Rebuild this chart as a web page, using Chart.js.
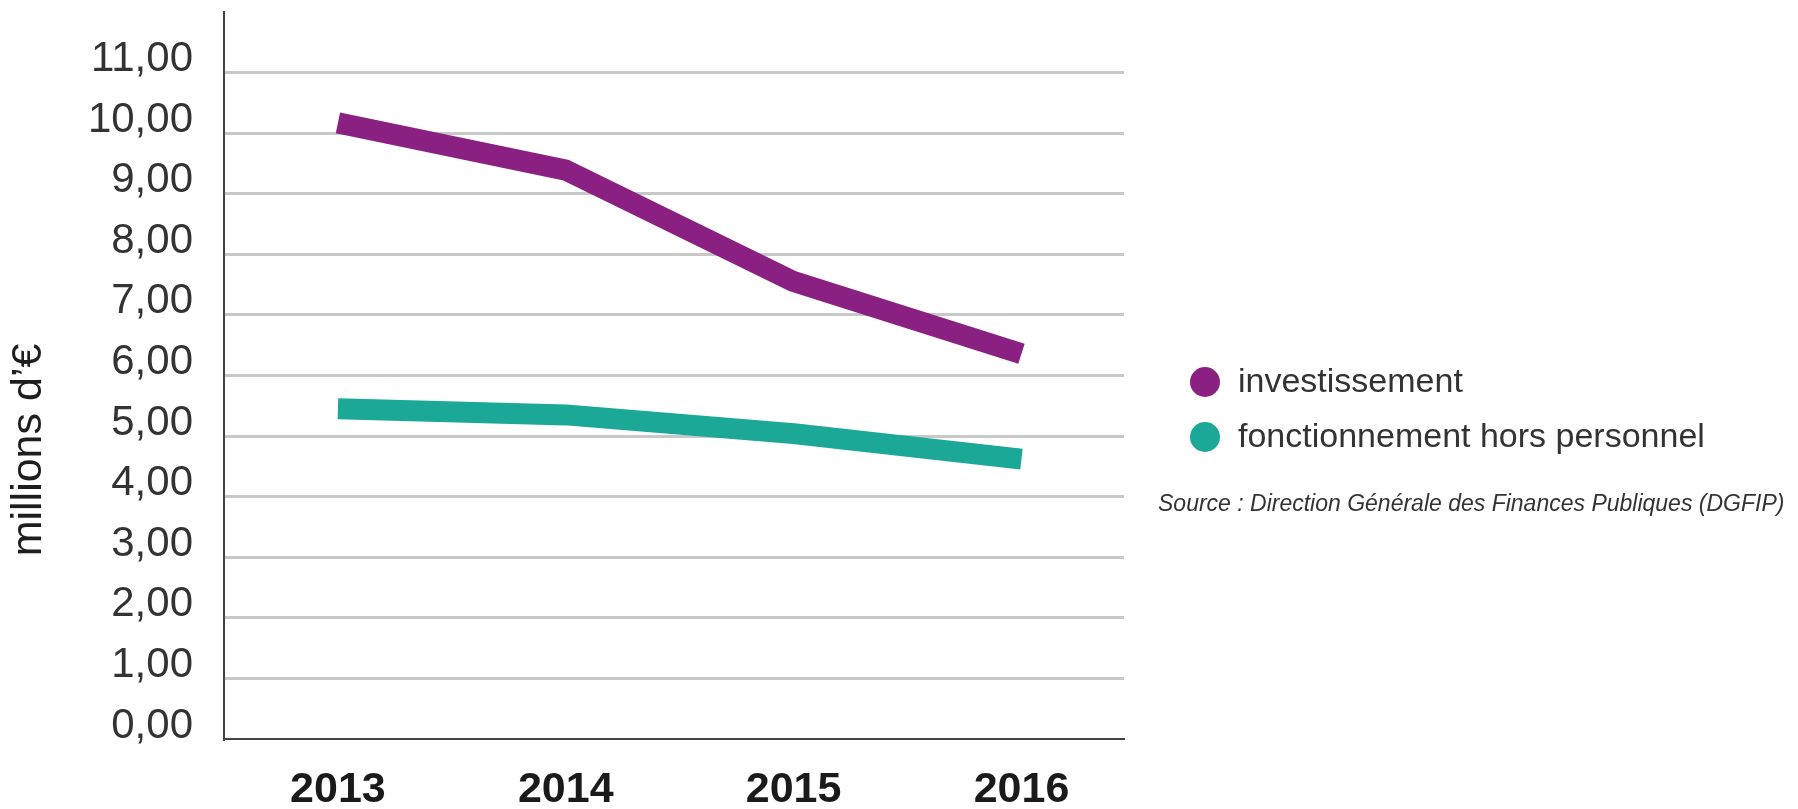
<!DOCTYPE html>
<html>
<head>
    <title>Dépenses</title>
    <script src="https://cdn.jsdelivr.net/npm/chart.js"></script>
    <style>
        html, body {
            margin: 0;
            padding: 0;
            background-color: #ffffff;
        }
        #wrap {
            width: 1798px;
            height: 809px;
        }
    </style>
</head>
<body>
    <div id="wrap">
        <canvas id="chart" width="1798" height="809"></canvas>
    </div>
<script>
    var years = [2013, 2014, 2015, 2016];
    var investissement = [10.17, 9.39, 7.55, 6.36];
    var fonctionnement = [5.45, 5.35, 5.04, 4.62];
    var seriesNames = ['investissement', 'fonctionnement hors personnel'];
    var seriesColors = ['#8a2182', '#1ba896'];
    var yLabels = ['0,00', '1,00', '2,00', '3,00', '4,00', '5,00', '6,00', '7,00', '8,00', '9,00', '10,00', '11,00'];
    var yTitle = 'millions d\u2019\u20ac';
    var sourceText = 'Source : Direction Générale des Finances Publiques (DGFIP)';

    var font = '"Liberation Sans", Arial, Helvetica, sans-serif';

    function points(values) {
        return years.map(function (y, i) { return { x: y, y: values[i] }; });
    }

    // y title, legend and source note drawn beside the plot
    var extras = {
        id: 'extras',
        afterDraw: function (chart) {
            var ctx = chart.ctx;
            ctx.save();
            ctx.translate(29, 450);
            ctx.rotate(-Math.PI / 2);
            ctx.font = '43px ' + font;
            ctx.fillStyle = '#1e1e1e';
            ctx.textAlign = 'center';
            ctx.textBaseline = 'middle';
            ctx.fillText(yTitle, 0, 0);
            ctx.restore();

            ctx.save();
            chart.data.datasets.forEach(function (ds, i) {
                var cy = 382 + i * 55;
                ctx.beginPath();
                ctx.arc(1205, cy, 15, 0, Math.PI * 2);
                ctx.fillStyle = ds.borderColor;
                ctx.fill();
                ctx.font = '34px ' + font;
                ctx.fillStyle = '#333333';
                ctx.textAlign = 'left';
                ctx.textBaseline = 'middle';
                ctx.fillText(ds.label, 1238, cy + 1);
            });
            ctx.font = 'italic 23px ' + font;
            ctx.fillStyle = '#333333';
            ctx.textBaseline = 'middle';
            ctx.fillText(sourceText, 1158, 505);
            ctx.restore();
        }
    };

    var ctx = document.getElementById('chart').getContext('2d');
    var chart = new Chart(ctx, {
        type: 'line',
        data: {
            datasets: [{
                label: seriesNames[0],
                data: points(investissement),
                borderColor: seriesColors[0],
                backgroundColor: seriesColors[0],
                borderWidth: 21,
                borderJoinStyle: 'round',
                pointRadius: 0,
                tension: 0,
                fill: false
            }, {
                label: seriesNames[1],
                data: points(fonctionnement),
                borderColor: seriesColors[1],
                backgroundColor: seriesColors[1],
                borderWidth: 21,
                borderJoinStyle: 'round',
                pointRadius: 0,
                tension: 0,
                fill: false
            }]
        },
        options: {
            responsive: false,
            animation: false,
            devicePixelRatio: 1,
            layout: {
                padding: { top: 12, right: 674, bottom: 0, left: 0 }
            },
            plugins: {
                legend: { display: false },
                tooltip: { enabled: false }
            },
            scales: {
                x: {
                    type: 'linear',
                    min: 2012.5,
                    max: 2016.45,
                    grid: { display: false, drawTicks: false },
                    border: { color: '#444444', width: 2 },
                    ticks: {
                        color: '#1a1a1a',
                        padding: 25,
                        maxRotation: 0,
                        font: { family: font, size: 43, weight: 'bold' },
                        callback: function (value) { return String(value); }
                    },
                    afterBuildTicks: function (scale) {
                        scale.ticks = years.map(function (y) { return { value: y }; });
                    },
                    afterFit: function (scale) {
                        scale.height = 70;
                        scale.paddingLeft = 0;
                        scale.paddingRight = 0;
                    }
                },
                y: {
                    min: 0,
                    max: 12,
                    grid: {
                        drawTicks: false,
                        lineWidth: 3,
                        color: function (c) {
                            if (c.tick.value === 0 || c.tick.value === 12) return 'rgba(0,0,0,0)';
                            return '#c8c8c8';
                        }
                    },
                    border: { color: '#444444', width: 2 },
                    ticks: {
                        stepSize: 1,
                        padding: 31,
                        color: '#333333',
                        font: { family: font, size: 42, lineHeight: 0.62 },
                        callback: function (value) {
                            if (yLabels[value] === undefined) return '';
                            return [yLabels[value], ''];
                        }
                    },
                    afterFit: function (scale) {
                        scale.width = 224;
                        scale.paddingTop = 0;
                        scale.paddingBottom = 0;
                    }
                }
            }
        },
        plugins: [extras]
    });
</script>
</body>
</html>
